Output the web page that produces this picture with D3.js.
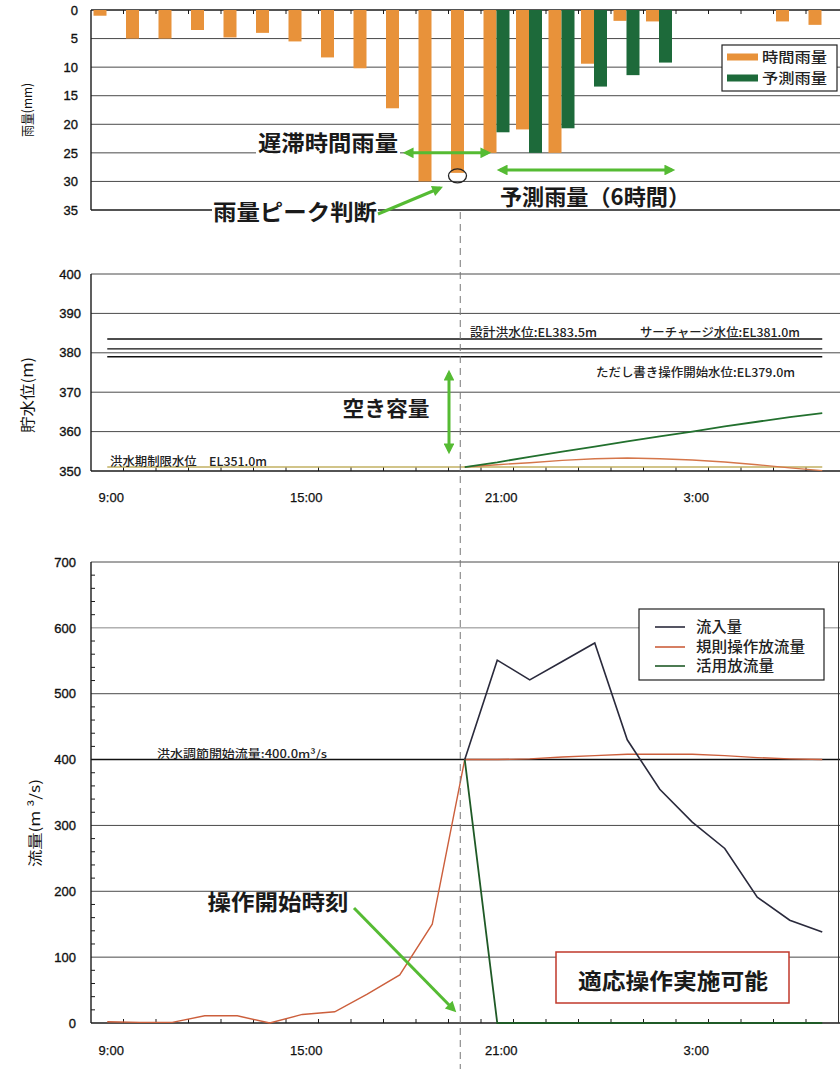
<!DOCTYPE html>
<html>
<head>
<meta charset="utf-8">
<script src="https://cdn.jsdelivr.net/npm/d3@7"></script>
<style>
  body { margin: 0; background: #fff; }
  svg { display: block; }
</style>
</head>
<body>
<svg id="chart" width="840" height="1069"></svg>
<script>
// Data
const hours = ["9:00","10:00","11:00","12:00","13:00","14:00","15:00","16:00","17:00","18:00","19:00","20:00",
  "21:00","22:00","23:00","0:00","1:00","2:00","3:00","4:00","5:00","6:00","7:00"];
const hourLabels = ["9:00", "15:00", "21:00", "3:00"];

// 雨量 (mm)
const rainObserved = [1, 5, 5, 3.5, 4.8, 4, 5.5, 8.3, 10.2, 17.2, 30, 28.5, 25, 20.9, 25, 9.4, 1.9, 2, 0, 0, 0, 2, 2.6];
const rainForecast = [null, null, null, null, null, null, null, null, null, null, null, null,
  21.4, 25, 20.7, 13.4, 11.4, 9.2, null, null, null, null, null];
const rainTicks = [0, 5, 10, 15, 20, 25, 30, 35];

// 貯水位 (m)
const levelTicks = [350, 360, 370, 380, 390, 400];
const refLevels = [383.5, 381.0, 379.0];
const limitLevel = 351.0;
const levelRule = [null, null, null, null, null, null, null, null, null, null, null,
  351.0, 351.6, 352.1, 352.7, 353.1, 353.3, 353.1, 352.8, 352.3, 351.6, 350.8, 350.1];
const levelAdaptive = [null, null, null, null, null, null, null, null, null, null, null,
  351.0, 352.2, 353.6, 354.9, 356.2, 357.5, 358.8, 360.0, 361.3, 362.5, 363.7, 364.7];

// 流量 (m3/s)
const flowTicks = [0, 100, 200, 300, 400, 500, 600, 700];
const floodStartFlow = 400;
const inflow = [null, null, null, null, null, null, null, null, null, null, null,
  400, 551, 521, 549, 577, 430, 355, 305, 265, 191, 156, 138];
const ruleRelease = [2, 1, 1, 11, 11, 0, 13, 17, 44, 73, 150,
  400, 400, 401, 404, 406, 408, 408, 408, 406, 403, 401, 400];
const adaptiveRelease = [null, null, null, null, null, null, null, null, null, null, null,
  400, 0, 0, 0, 0, 0, 0, 0, 0, 0, 0, 0];

// Globals
const svg = d3.select("#chart");
const left = 91, right = 838.5;
const cjk = '"Noto Sans CJK JP", sans-serif';
const latin = '"Liberation Sans", Arial, sans-serif';
const orange = "#e8923a", dkGreen = "#1d6a3a", arrowGreen = "#55bb33";
const gridColor = "#4a4a4a", axisColor = "#1a1a1a";

const x = d3.scaleBand().domain(hours).range([left, right]);
const bw = x.bandwidth();
const cx = h => x(h) + bw / 2;

const defs = svg.append("defs");
defs.append("marker")
  .attr("id", "ah").attr("viewBox", "0 0 10 10").attr("refX", 7).attr("refY", 5)
  .attr("markerWidth", 4.2).attr("markerHeight", 3.6).attr("orient", "auto-start-reverse")
  .append("path").attr("d", "M0,0L10,5L0,10z").attr("fill", arrowGreen);

function hline(g, y, color, w) {
  g.append("line").attr("x1", left).attr("x2", right + 1.5)
    .attr("y1", y).attr("y2", y).attr("stroke", color).attr("stroke-width", w);
}

function yLabels(g, y, ticks, xr) {
  g.selectAll("text.yl").data(ticks).join("text")
    .attr("class", "yl")
    .attr("x", xr).attr("y", d => y(d))
    .attr("dy", "0.36em")
    .attr("text-anchor", "end")
    .attr("font-family", latin).attr("font-size", 13).attr("fill", "#111")
    .attr("stroke", "#111").attr("stroke-width", 0.35)
    .text(d => d);
}

function catTicks(g, y0, dir) {
  g.selectAll("line.ct").data(hours.slice(1)).join("line")
    .attr("class", "ct")
    .attr("x1", d => x(d)).attr("x2", d => x(d))
    .attr("y1", y0).attr("y2", y0 + dir * 4)
    .attr("stroke", axisColor).attr("stroke-width", 1);
}

function xLabels(g, y0) {
  g.selectAll("text.xl").data(hourLabels).join("text")
    .attr("class", "xl")
    .attr("x", d => cx(d) + 4).attr("y", y0)
    .attr("dy", "0.36em")
    .attr("text-anchor", "middle")
    .attr("font-family", latin).attr("font-size", 13).attr("fill", "#111")
    .attr("stroke", "#111").attr("stroke-width", 0.25)
    .text(d => d);
}

function yTitle(g, px, py, label, size, len) {
  g.append("text")
    .attr("transform", `translate(${px},${py}) rotate(-90)`)
    .attr("text-anchor", "middle").attr("dy", "0.36em")
    .attr("font-family", cjk).attr("font-size", size).attr("fill", "#111")
    .attr("textLength", len).attr("lengthAdjust", "spacingAndGlyphs")
    .text(label);
}

function bigText(g, px, py, label, len, size = 22) {
  g.append("text")
    .attr("x", px).attr("y", py).attr("dy", "0.36em")
    .attr("text-anchor", "middle")
    .attr("font-family", cjk).attr("font-size", size).attr("font-weight", "bold").attr("fill", "#1a1a1a")
    .attr("textLength", len).attr("lengthAdjust", "spacingAndGlyphs")
    .text(label);
}

function smallText(g, px, py, label, len, size = 12) {
  g.append("text")
    .attr("x", px).attr("y", py).attr("dy", "0.36em")
    .attr("font-family", cjk).attr("font-size", size).attr("font-weight", 500).attr("fill", "#222")
    .attr("textLength", len).attr("lengthAdjust", "spacingAndGlyphs")
    .text(label);
}

function arrow(g, x1, y1, x2, y2, both) {
  const l = g.append("line").attr("x1", x1).attr("y1", y1).attr("x2", x2).attr("y2", y2)
    .attr("stroke", arrowGreen).attr("stroke-width", 3)
    .attr("marker-end", "url(#ah)");
  if (both) l.attr("marker-start", "url(#ah)");
}

// ---------- 雨量 ----------
function drawRain() {
  const g = svg.append("g");
  const y = d3.scaleLinear().domain([0, 35]).range([10, 210]);

  rainTicks.slice(1, -1).forEach(t => hline(g, y(t), gridColor, 1));
  hline(g, y(0), axisColor, 1.4);
  hline(g, y(35), axisColor, 1.4);
  g.append("line").attr("x1", left).attr("x2", left).attr("y1", y(0)).attr("y2", y(35))
    .attr("stroke", axisColor).attr("stroke-width", 1.4);
  catTicks(g, y(0), 1);

  g.selectAll("rect.obs").data(hours).join("rect")
    .attr("class", "obs")
    .attr("x", d => x(d) + 2.5).attr("width", 13)
    .attr("y", y(0))
    .attr("height", (d, i) => y(rainObserved[i]) - y(0))
    .attr("fill", orange);

  g.selectAll("rect.fc").data(hours.filter((d, i) => rainForecast[i] != null)).join("rect")
    .attr("class", "fc")
    .attr("x", d => x(d) + 15.5).attr("width", 13)
    .attr("y", y(0))
    .attr("height", d => y(rainForecast[hours.indexOf(d)]) - y(0))
    .attr("fill", dkGreen);

  yLabels(g, y, rainTicks, 78);
  yTitle(g, 27, 110, "雨量(mm)", 13, 54);

  // legend
  g.append("rect").attr("x", 722).attr("y", 45).attr("width", 115).attr("height", 46)
    .attr("fill", "#fff").attr("stroke", "#222").attr("stroke-width", 1.2);
  [["時間雨量", orange, 57], ["予測雨量", dkGreen, 78]].forEach(([t, c, ly]) => {
    g.append("rect").attr("x", 727).attr("y", ly - 3.5).attr("width", 31).attr("height", 7).attr("fill", c);
    smallText(g, 762, ly, t, 65, 14);
  });

  // annotations
  g.append("rect").attr("x", 256).attr("y", 132).attr("width", 144).attr("height", 22).attr("fill", "#fff");
  bigText(g, 328, 143, "遅滞時間雨量", 140);
  arrow(g, 406, y(25), 488, y(25), true);

  arrow(g, 500, y(28), 672, y(28), true);
  bigText(g, 595, 197, "予測雨量（6時間）", 190);

  const pk = hours[11];
  g.append("ellipse").attr("cx", x(pk) + 9).attr("cy", y(rainObserved[11]) + 3)
    .attr("rx", 9).attr("ry", 7).attr("fill", "none").attr("stroke", "#222").attr("stroke-width", 1.3);

  g.append("rect").attr("x", 212).attr("y", 201).attr("width", 166).attr("height", 23).attr("fill", "#fff");
  bigText(g, 295, 212, "雨量ピーク判断", 164);
  arrow(g, 378, 214, 440, 188, false);
}

// ---------- 貯水位 ----------
function drawLevel() {
  const g = svg.append("g");
  const y = d3.scaleLinear().domain([350, 400]).range([471, 274]);

  levelTicks.slice(1).forEach(t => hline(g, y(t), gridColor, 1));
  hline(g, y(350), axisColor, 1.4);
  g.append("line").attr("x1", left).attr("x2", left).attr("y1", y(400)).attr("y2", y(350))
    .attr("stroke", axisColor).attr("stroke-width", 1.4);
  catTicks(g, y(350), -1);

  const flat = v => d3.line().x(d => cx(d)).y(() => y(v));
  refLevels.forEach(v => {
    g.append("path").attr("d", flat(v)(hours)).attr("fill", "none")
      .attr("stroke", "#111").attr("stroke-width", 1.3);
  });
  g.append("path").attr("d", flat(limitLevel)(hours)).attr("fill", "none")
    .attr("stroke", "#c2b062").attr("stroke-width", 1.6);

  const line = arr => d3.line().defined((d, i) => arr[i] != null)
    .x(d => cx(d)).y((d, i) => y(arr[i]));
  g.append("path").attr("d", line(levelRule)(hours)).attr("fill", "none")
    .attr("stroke", "#d5764a").attr("stroke-width", 1.4);
  g.append("path").attr("d", line(levelAdaptive)(hours)).attr("fill", "none")
    .attr("stroke", "#22702e").attr("stroke-width", 1.8);

  yLabels(g, y, levelTicks, 81);
  yTitle(g, 28, 395, "貯水位(m)", 15, 76);
  xLabels(g, 497);

  smallText(g, 470, 333, "設計洪水位:EL383.5m", 127);
  smallText(g, 640, 333, "サーチャージ水位:EL381.0m", 160);
  smallText(g, 596, 373, "ただし書き操作開始水位:EL379.0m", 199);
  smallText(g, 110, 462, "洪水期制限水位　EL351.0m", 157);

  bigText(g, 386, 408, "空き容量", 87, 21);
  arrow(g, 449, 373, 449, 451, true);
}

// ---------- 流量 ----------
function drawFlow() {
  const g = svg.append("g");
  const y = d3.scaleLinear().domain([0, 700]).range([1023, 562]);

  flowTicks.slice(1).forEach(t => hline(g, y(t), t === floodStartFlow ? "#111" : (t === 600 ? "#888" : gridColor), t === floodStartFlow ? 1.4 : 1));
  hline(g, y(0), axisColor, 1.4);
  g.append("line").attr("x1", left).attr("x2", left).attr("y1", y(700)).attr("y2", y(0))
    .attr("stroke", axisColor).attr("stroke-width", 1.4);
  g.append("line").attr("x1", right).attr("x2", right).attr("y1", y(700)).attr("y2", y(0))
    .attr("stroke", "#333").attr("stroke-width", 1);
  catTicks(g, y(0), -1);

  const minor = d3.range(0, 701, 20).filter(v => v % 100 !== 0);
  g.selectAll("line.mt").data(minor).join("line")
    .attr("class", "mt")
    .attr("x1", left).attr("x2", left + 4)
    .attr("y1", d => y(d)).attr("y2", d => y(d))
    .attr("stroke", axisColor);

  smallText(g, 157, y(floodStartFlow) - 6, "洪水調節開始流量:400.0m³/s", 170, 11);

  const line = arr => d3.line().defined((d, i) => arr[i] != null)
    .x(d => cx(d)).y((d, i) => y(arr[i]));
  g.append("path").attr("d", line(ruleRelease)(hours)).attr("fill", "none")
    .attr("stroke", "#cc5f3c").attr("stroke-width", 1.4);
  g.append("path").attr("d", line(adaptiveRelease)(hours)).attr("fill", "none")
    .attr("stroke", "#1f5a26").attr("stroke-width", 1.8);
  g.append("path").attr("d", line(inflow)(hours)).attr("fill", "none")
    .attr("stroke", "#2a2a3c").attr("stroke-width", 1.6);

  yLabels(g, y, flowTicks, 76);
  yTitle(g, 35, 823, "流量(m ³/s)", 14, 88);
  xLabels(g, 1050);

  // legend
  g.append("rect").attr("x", 639).attr("y", 609).attr("width", 185).attr("height", 71)
    .attr("fill", "#fff").attr("stroke", "#222").attr("stroke-width", 1.2);
  [["流入量", "#2a2a3c", 627, 46], ["規則操作放流量", "#cc5f3c", 647, 109], ["活用放流量", "#1f5a26", 666, 78]]
    .forEach(([t, c, ly, len]) => {
      g.append("line").attr("x1", 655).attr("x2", 685).attr("y1", ly).attr("y2", ly)
        .attr("stroke", c).attr("stroke-width", 1.6);
      smallText(g, 696, ly, t, len, 14.5);
    });

  bigText(g, 278, 902, "操作開始時刻", 141);
  arrow(g, 354, 908, 454, 1010, false);

  g.append("rect").attr("x", 556).attr("y", 952).attr("width", 233).attr("height", 51)
    .attr("fill", "#fff").attr("stroke", "#c0392b").attr("stroke-width", 1.5);
  bigText(g, 673, 981, "適応操作実施可能", 190);
}

drawRain();
drawLevel();
drawFlow();

// operation start marker line
svg.append("line")
  .attr("x1", cx(hours[11]) - 4.5).attr("x2", cx(hours[11]) - 4.5)
  .attr("y1", 212).attr("y2", 1069)
  .attr("stroke", "#777").attr("stroke-width", 1).attr("stroke-dasharray", "7,5");
</script>
</body>
</html>
